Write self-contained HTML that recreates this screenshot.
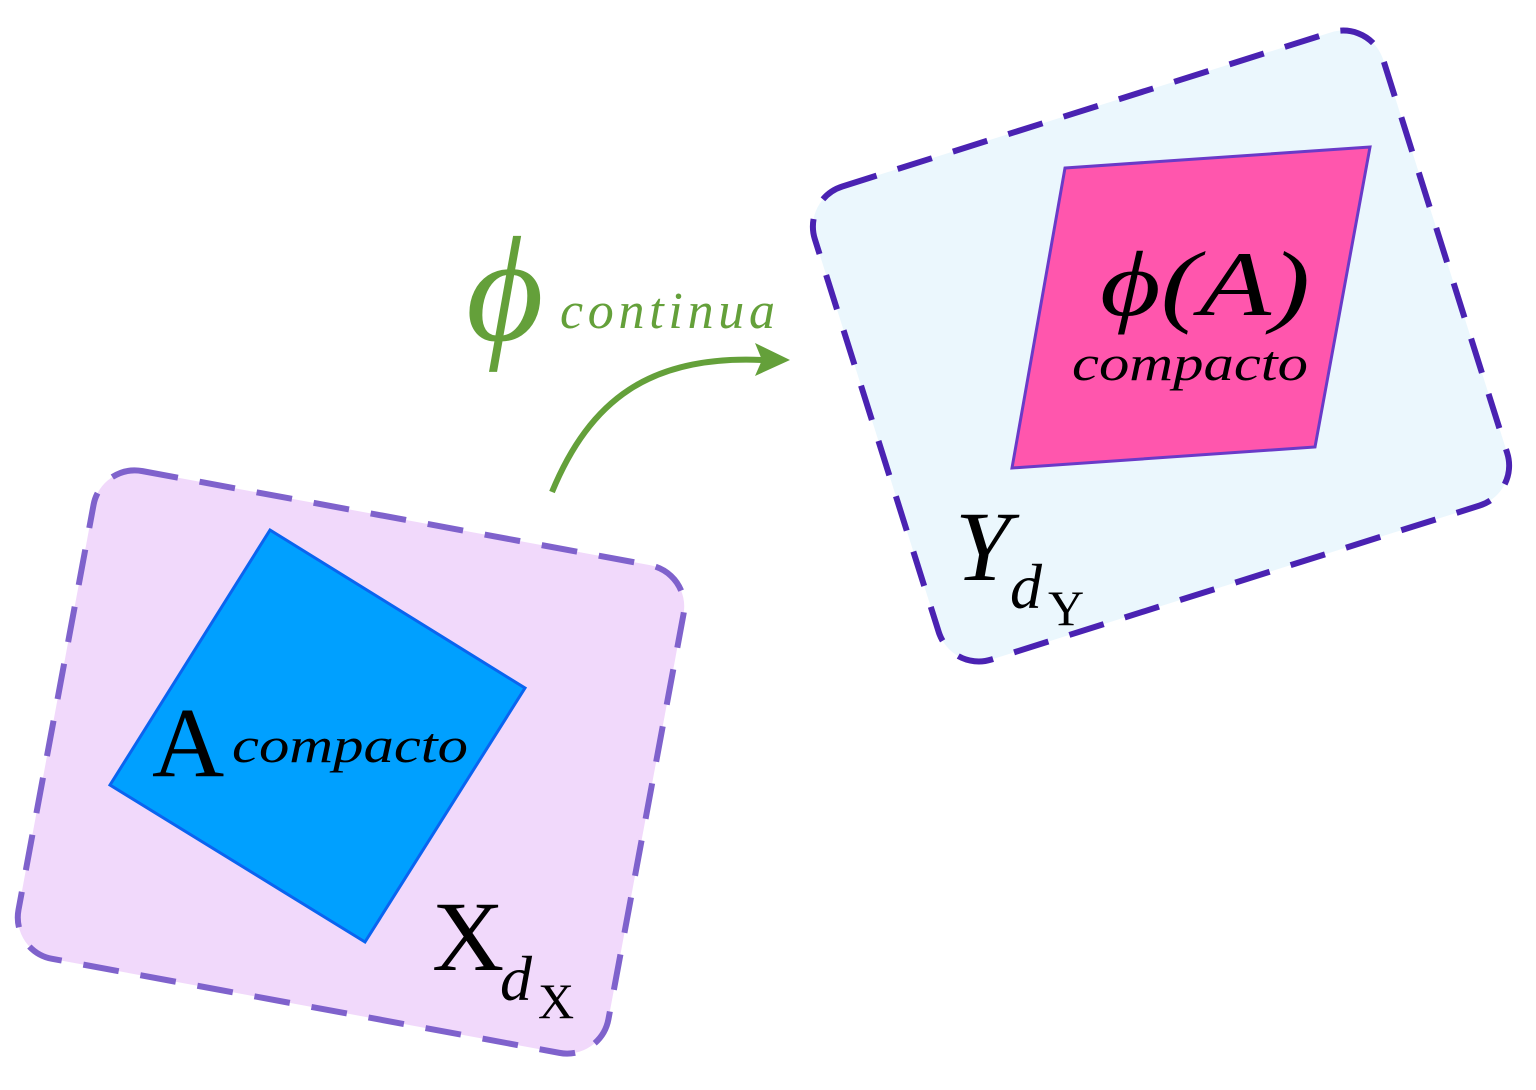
<!DOCTYPE html>
<html><head><meta charset="utf-8"><style>html,body{margin:0;padding:0;background:#fff}svg{display:block}</style></head>
<body>
<svg width="1536" height="1090" viewBox="0 0 1536 1090" xmlns="http://www.w3.org/2000/svg" font-family="'Liberation Serif', serif">
<rect x="-300" y="-248" width="600" height="496" rx="42" transform="translate(351,762) rotate(10.5)" fill="#f1d9fb" stroke="#7f62cc" stroke-width="6" stroke-dasharray="36 22"/>
<rect x="-298" y="-248" width="596" height="496" rx="42" transform="translate(1161,346) rotate(-17.5)" fill="#ebf7fd" stroke="#4a22b2" stroke-width="6" stroke-dasharray="36 22"/>
<polygon points="270,530 525,688 365,942 110,785" fill="#00a0ff" stroke="#0a64f0" stroke-width="3"/>
<polygon points="1065,168 1370,147 1315,447 1012,468" fill="#ff56ad" stroke="#6a3ac8" stroke-width="3"/>
<path d="M552 492 C 590 400, 650 355, 762 360" fill="none" stroke="#64a03a" stroke-width="6"/>
<polygon points="790,360 755,343 762,360 755,376" fill="#64a03a"/>
<text x="466" y="340" font-size="150" font-style="italic" fill="#64a03a">ϕ</text>
<text x="560" y="328" font-size="52" font-style="italic" fill="#64a03a" textLength="215" lengthAdjust="spacing">continua</text>
<text x="1100" y="315" font-size="92" font-style="italic" fill="#000" textLength="210" lengthAdjust="spacingAndGlyphs">ϕ(A)</text>
<text x="1072" y="380" font-size="50" font-style="italic" fill="#000" textLength="236" lengthAdjust="spacingAndGlyphs">compacto</text>
<text x="152" y="776" font-size="100" fill="#000">A</text>
<text x="232" y="762" font-size="50" font-style="italic" fill="#000" textLength="236" lengthAdjust="spacingAndGlyphs">compacto</text>
<text x="432" y="970" font-size="100" fill="#000">X</text>
<text x="500" y="1000" font-size="64" font-style="italic" fill="#000">d</text>
<text x="538" y="1018" font-size="50" fill="#000">X</text>
<text x="955" y="580" font-size="100" font-style="italic" fill="#000">Y</text>
<text x="1010" y="608" font-size="64" font-style="italic" fill="#000">d</text>
<text x="1048" y="625" font-size="50" fill="#000">Y</text>
</svg>
</body></html>
